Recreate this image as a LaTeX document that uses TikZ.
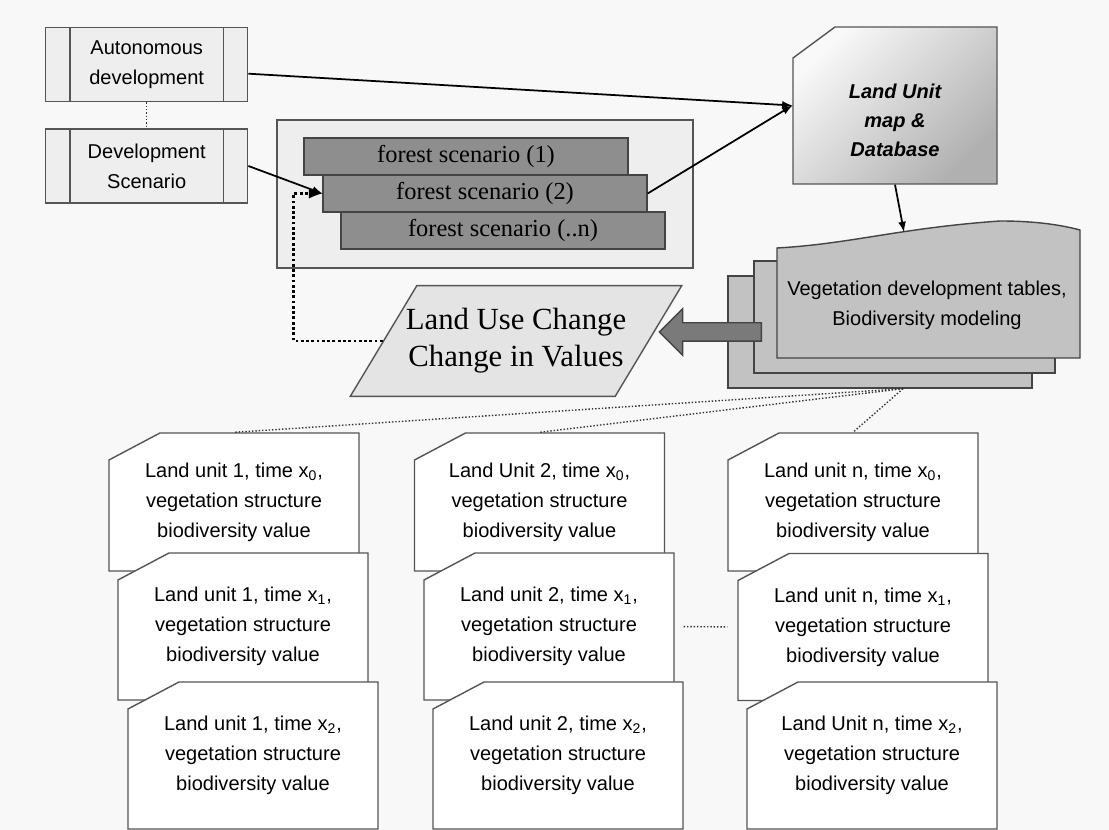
\documentclass[tikz,border=0pt]{standalone}
\usepackage{fontspec}
\setmainfont{Liberation Serif}
\setsansfont{Liberation Sans}
\usetikzlibrary{shapes.geometric,shapes.arrows}

\definecolor{bgpaper}{HTML}{F8F8F8}
\definecolor{edgegray}{HTML}{555555}
\definecolor{boxgray}{HTML}{EEEEEE}
\definecolor{forestgray}{HTML}{8E8E8E}
\definecolor{sheetgray}{HTML}{C2C2C2}
\definecolor{lucgray}{HTML}{E4E4E4}
\definecolor{arrowgray}{HTML}{7A7A7A}

\begin{document}
\begin{tikzpicture}[
        x=0.02cm, y=-0.02cm,
        >=latex, line width=0.8pt,
        sanstext/.style={font=\sffamily\fontsize{11.4}{17}\selectfont, align=center},
        procbox/.style={sanstext, draw=edgegray, fill=boxgray, minimum width=4.04cm, minimum height=1.48cm, inner sep=0pt,
            path picture={
                \draw[edgegray] ([xshift=0.486cm]path picture bounding box.south west) -- ([xshift=0.486cm]path picture bounding box.north west);
                \draw[edgegray] ([xshift=-0.486cm]path picture bounding box.south east) -- ([xshift=-0.486cm]path picture bounding box.north east);
            }},
        forestbox/.style={draw=edgegray!80!black, fill=forestgray, minimum width=6.48cm, minimum height=0.74cm, inner sep=0pt, font=\fontsize{13.9}{16}\selectfont},
        cardline/.style={draw=edgegray, fill=white},
        cardtext/.style={sanstext, minimum width=5cm, inner sep=0pt},
        sheet/.style={draw=edgegray!80!black, fill=sheetgray, inner sep=0pt},
        link/.style={->, line width=1pt, black},
        dotlink/.style={line width=0.8pt, dash pattern=on 0.8pt off 1.1pt, edgegray!60!black},
        fbline/.style={->, line width=1.6pt, dash pattern=on 1.6pt off 1.4pt, black}
    ]

    % background
    \fill[bgpaper] (0,0) rectangle (1109,830);

    % 1. Scenarios
    \node[procbox] (auto) at (146.7,64.7) {Autonomous\\development};
    \node[procbox] (devsc) at (146.7,166) {Development\\Scenario};

    \node[draw=edgegray, fill=boxgray, minimum width=8.32cm, minimum height=2.96cm] (scenarios) at (485,194) {};
    \node[forestbox] (forest1) at (466,156.5) {forest scenario (1)};
    \node[forestbox] (forest2) at (485,193.5) {forest scenario (2)};
    \node[forestbox] (forestn) at (503,230.5) {forest scenario (..n)};

    % 2. Land unit map (cut corner, shaded)
    \draw[edgegray, top color=gray!5, bottom color=gray!62, shading angle=45]
        (793,58) -- (835,27) -- (997,27) -- (997,184) -- (793,184) -- cycle;
    \node[minimum width=4.08cm, minimum height=3.14cm, inner sep=0pt, align=center,
        font=\sffamily\bfseries\itshape\fontsize{11.4}{16.5}\selectfont] (landunit) at (895,105.5)
        {\mbox{}\\[0.32cm]Land Unit\\map \&\\Database};

    % 3. Vegetation tables (stacked sheets)
    \node[sheet, minimum width=6.08cm, minimum height=2.24cm] (sheetc) at (880,332) {};
    \node[sheet, minimum width=6.02cm, minimum height=2.24cm] (sheetb) at (904.5,317) {};
    \filldraw[sheet] (777,358) -- (777,248) .. controls (850,244) and (900,228) .. (1000,221)
        .. controls (1040,221) and (1065,226) .. (1080,230) -- (1080,358) -- cycle;
    \coordinate (vegtop) at (904,232);
    \node[sanstext] (vegtab) at (927,305) {Vegetation development tables,\\Biodiversity modeling};

    % 4. Land use change
    \node[trapezium, trapezium left angle=59, trapezium right angle=121, trapezium stretches body=true,
        draw=edgegray, fill=lucgray, inner xsep=-0.22cm, inner ysep=0.46cm,
        align=center, font=\fontsize{17.5}{21}\selectfont] (luc) at (516,341)
        {Land Use Change\\Change in Values};
    \node[single arrow, shape border rotate=180, draw=edgegray!80!black, fill=arrowgray, inner sep=0.17cm,
        minimum height=2.04cm, single arrow head extend=0.28cm] (bigarrow) at (715,332) {};

    % 5. Land unit cards (cut corner sheets)
    \foreach \cx/\cy/\ch in {234/502/138, 243/626.5/147, 253/755.5/147,
                             539.5/502/138, 549/626.5/147, 558/755.5/147,
                             853/502/138, 863/627/147, 872/755.5/147}
        \filldraw[cardline] ({\cx-125},{\cy-\ch/2+27}) -- ({\cx-74},{\cy-\ch/2}) -- ({\cx+125},{\cy-\ch/2})
            -- ({\cx+125},{\cy+\ch/2}) -- ({\cx-125},{\cy+\ch/2}) -- cycle;

    \node[cardtext, minimum height=2.76cm] (c1a) at (234,502) {Land unit 1, time x\textsubscript{0},\\vegetation structure\\biodiversity value};
    \node[cardtext, minimum height=2.94cm] (c1b) at (243,626.5) {Land unit 1, time x\textsubscript{1},\\vegetation structure\\biodiversity value};
    \node[cardtext, minimum height=2.94cm] (c1c) at (253,755.5) {Land unit 1, time x\textsubscript{2},\\vegetation structure\\biodiversity value};

    \node[cardtext, minimum height=2.76cm] (c2a) at (539.5,502) {Land Unit 2, time x\textsubscript{0},\\vegetation structure\\biodiversity value};
    \node[cardtext, minimum height=2.94cm] (c2b) at (549,626.5) {Land unit 2, time x\textsubscript{1},\\vegetation structure\\biodiversity value};
    \node[cardtext, minimum height=2.94cm] (c2c) at (558,755.5) {Land unit 2, time x\textsubscript{2},\\vegetation structure\\biodiversity value};

    \node[cardtext, minimum height=2.76cm] (c3a) at (853,502) {Land unit n, time x\textsubscript{0},\\vegetation structure\\biodiversity value};
    \node[cardtext, minimum height=2.94cm] (c3b) at (863,627) {Land unit n, time x\textsubscript{1},\\vegetation structure\\biodiversity value};
    \node[cardtext, minimum height=2.94cm] (c3c) at (872,755.5) {Land Unit n, time x\textsubscript{2},\\vegetation structure\\biodiversity value};

    % --- connectors ---
    \draw[dotlink] (auto.south) -- (devsc.north);
    \draw[link] ([yshift=-0.18cm]auto.east) -- (landunit.west);
    \draw[link] (devsc.east) -- (forest2.west);
    \draw[link] (forest2.east) -- (landunit.west);
    \draw[link] (landunit.south) -- (vegtop);
    \draw[fbline] (luc.left side) -- ++(-89,0) |- (forest2.west);

    \coordinate (fan) at ([xshift=0.46cm]sheetc.south);
    \draw[dotlink] (fan) -- (c1a.north);
    \draw[dotlink] (fan) -- (c2a.north);
    \draw[dotlink] (fan) -- (c3a.north);
    \draw[dotlink, shorten <=0.18cm, shorten >=0.2cm] (c2b.east) -- (c3b.west);

\end{tikzpicture}
\end{document}
